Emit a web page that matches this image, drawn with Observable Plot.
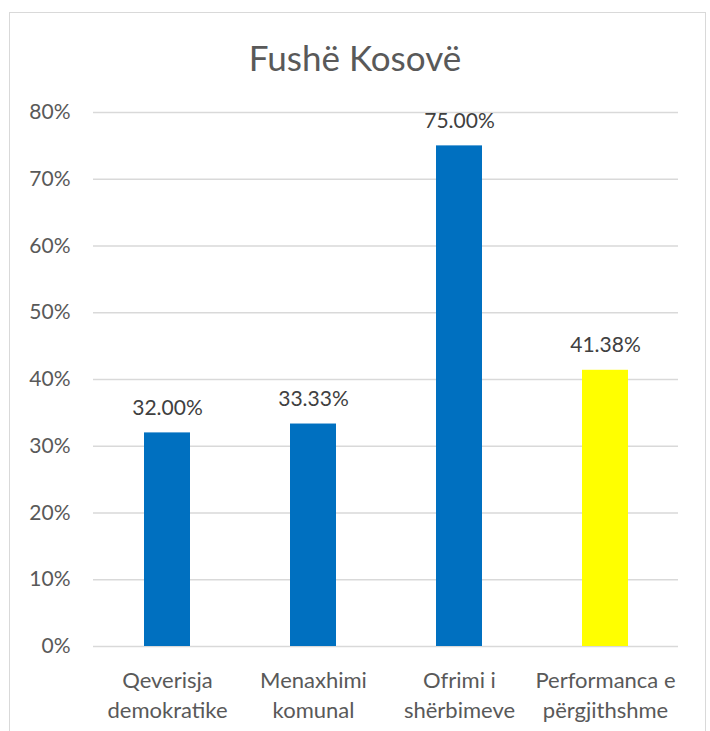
<!DOCTYPE html>
<html>
<head>
<meta charset="utf-8">
<script src="https://cdn.jsdelivr.net/npm/d3@7"></script>
<script src="https://cdn.jsdelivr.net/npm/@observablehq/plot@0.6"></script>
<style>
  html, body { margin: 0; padding: 0; background: #fff; overflow: hidden; }
  #wrap { position: relative; width: 710px; height: 731px; overflow: hidden; font-family: Lato, "Open Sans", sans-serif; }
  #frame { position: absolute; left: 9px; top: 12px; width: 697px; height: 760px; border: 1.5px solid #d9d9d9; box-sizing: border-box; }
  #title { position: absolute; left: 0; width: 710px; top: 40px; text-align: center; font-size: 35px; color: #595959; line-height: 1; }
  #chart { position: absolute; left: 0; top: 0; }
</style>
</head>
<body>
<div id="wrap">
  <div id="frame"></div>
  <div id="chart"></div>
  <div id="title">Fushë Kosovë</div>
</div>
<script>
const categories = ["Qeverisja\ndemokratike", "Menaxhimi\nkomunal", "Ofrimi i\nshërbimeve", "Performanca e\npërgjithshme"];
const values = [0.32, 0.3333, 0.75, 0.4138];
const overallCategory = "Performanca e\npërgjithshme";
const yTicks = [0, 0.1, 0.2, 0.3, 0.4, 0.5, 0.6, 0.7, 0.8];

const data = categories.map((c, i) => ({cat: c, value: values[i]}));

const chart = Plot.plot({
  width: 710,
  height: 731,
  marginTop: 112,
  marginBottom: 85,
  marginLeft: 93,
  marginRight: 32,
  style: {fontFamily: "Lato, 'Open Sans', sans-serif", background: "transparent"},
  x: {domain: categories, paddingInner: 0.686, paddingOuter: 0.343, label: null},
  y: {domain: [0, 0.8], label: null},
  marks: [
    Plot.gridY(yTicks, {stroke: "#d9d9d9", strokeOpacity: 1, strokeWidth: 1.3}),
    Plot.axisY(yTicks, {tickSize: 0, tickPadding: 23, tickFormat: d3.format(".0%"), fontSize: 21, fill: "#595959", label: null}),
    Plot.axisX({tickSize: 0, tickPadding: 20, fontSize: 22, fill: "#595959", lineHeight: 1.36, label: null}),
    Plot.barY(data, {x: "cat", y: "value", fill: d => d.cat === overallCategory ? "#FFFF00" : "#0070C0"}),
    Plot.text(data, {x: "cat", y: "value", text: d => d3.format(".2%")(d.value), dy: -25, fontSize: 21, fill: "#404040"})
  ]
});
document.getElementById("chart").appendChild(chart);
</script>
</body>
</html>
